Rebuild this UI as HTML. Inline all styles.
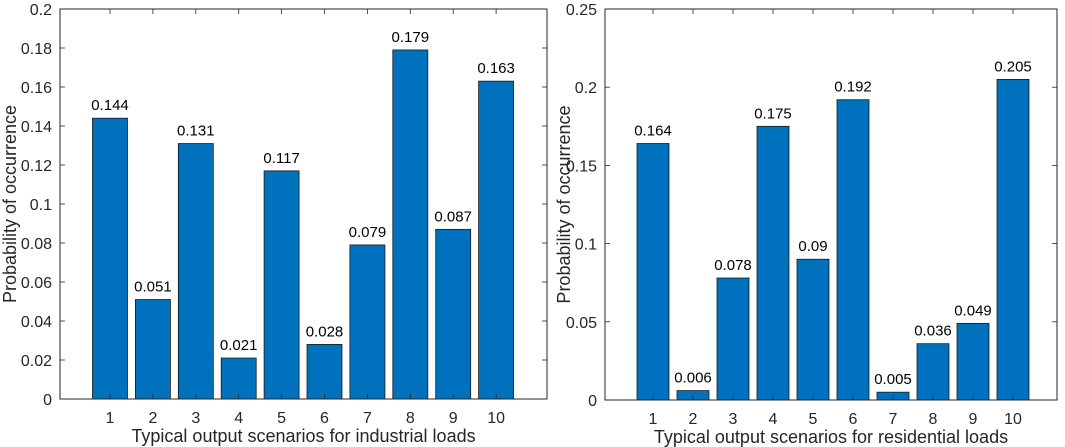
<!DOCTYPE html>
<html><head><meta charset="utf-8"><style>
body{margin:0;background:#fff;}
svg{display:block;font-family:"Liberation Sans",sans-serif;}
</style></head><body>
<svg id="chart" width="1065" height="447"></svg>
<script>
const catsA=[1,2,3,4,5,6,7,8,9,10];
const valsA=[0.144,0.051,0.131,0.021,0.117,0.028,0.079,0.179,0.087,0.163];
const ticksA=[0,0.02,0.04,0.06,0.08,0.1,0.12,0.14,0.16,0.18,0.2];
const catsB=[1,2,3,4,5,6,7,8,9,10];
const valsB=[0.164,0.006,0.078,0.175,0.09,0.192,0.005,0.036,0.049,0.205];
const ticksB=[0,0.05,0.1,0.15,0.2,0.25];
const svg=document.getElementById('chart');
const NS='http://www.w3.org/2000/svg';
function mk(tag,attrs,parent){const e=document.createElementNS(NS,tag);for(const k in attrs)e.setAttribute(k,attrs[k]);(parent||svg).appendChild(e);return e;}
function panel(id,cats,vals,ticks,box,c1,sp,bw,xlabel){
  const g=mk('g',{});
  
  
  const ymax=ticks[ticks.length-1];
  const y=v=>box.b-(v/ymax)*(box.b-box.t);
  const x=c=>c1+(c-cats[0])*sp;
  cats.forEach((c,i)=>{
    const r=mk('rect',{x:x(c)-bw/2,y:y(vals[i]),width:bw,height:box.b-y(vals[i]),fill:'#0072BD',stroke:'#1a1a1a','stroke-width':0.8},g);
    
    
    const t=mk('text',{x:x(c),y:y(vals[i])-8,'text-anchor':'middle','font-size':15,fill:'#000'},g);
    t.textContent=String(vals[i]);
    
    
    const tl=mk('text',{x:x(c),y:box.b+24,'text-anchor':'middle','font-size':16,fill:'#262626'},g);
    tl.textContent=c;
    
    
    mk('line',{x1:x(c),x2:x(c),y1:box.b,y2:box.b-5,stroke:'#262626','stroke-width':0.8},g);
    mk('line',{x1:x(c),x2:x(c),y1:box.t,y2:box.t+5,stroke:'#262626','stroke-width':0.8},g);
  });
  ticks.forEach(v=>{
    mk('line',{x1:box.l,x2:box.l+5,y1:y(v),y2:y(v),stroke:'#262626','stroke-width':0.8},g);
    mk('line',{x1:box.r,x2:box.r-5,y1:y(v),y2:y(v),stroke:'#262626','stroke-width':0.8},g);
    const t=mk('text',{x:box.l-8,y:y(v)+6,'text-anchor':'end','font-size':16,fill:'#262626'},g);
    t.textContent=String(v);
    
    
  });
  mk('rect',{x:box.l,y:box.t,width:box.r-box.l,height:box.b-box.t,fill:'none',stroke:'#262626','stroke-width':1},g);
  const xl=mk('text',{x:(box.l+box.r)/2,y:box.b+43,'text-anchor':'middle','font-size':18,fill:'#262626'},g);
  xl.textContent=xlabel;
  
  
  const cy=(box.t+box.b)/2;
  const yl=mk('text',{x:box.yl,y:cy,'text-anchor':'middle','font-size':18,fill:'#262626',transform:`rotate(-90 ${box.yl} ${cy})`},g);
  yl.textContent='Probability of occurrence';
  
  
}
panel('industrial-chart',catsA,valsA,ticksA,{l:60,r:547,t:9,b:399,yl:16},110,42.9,35,'Typical output scenarios for industrial loads');
panel('residential-chart',catsB,valsB,ticksB,{l:605,r:1057,t:9,b:400,yl:570},653,40,32,'Typical output scenarios for residential loads');
</script>
</body></html>
